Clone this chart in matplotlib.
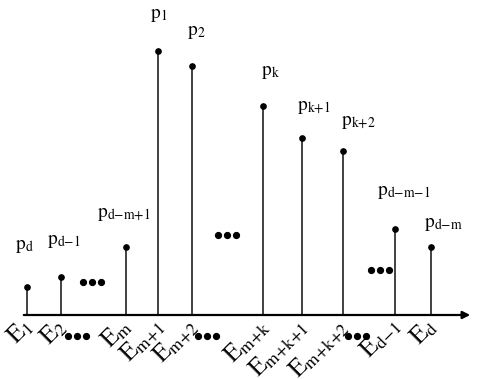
import matplotlib
matplotlib.use("Agg")
import matplotlib.pyplot as plt

plt.rcParams['font.family'] = ['Liberation Serif', 'DejaVu Serif']
plt.rcParams['mathtext.fontset'] = 'stix'

# позиции стержней по оси и их высоты
x_pos = [27, 61, 126, 158, 192, 263, 302, 343, 395, 431]
heights = [28, 38, 68, 264, 249, 209, 177, 164, 86, 68]

e_labels = ["1", "2", "m", "m{+}1", "m{+}2", "m{+}k", "m{+}k{+}1", "m{+}k{+}2", "d{-}1", "d"]
p_labels = ["d", "d{-}1", "d{-}m{+}1", "1", "2", "k", "k{+}1", "k{+}2", "d{-}m{-}1", "d{-}m"]

# смещения подписей p (dx, dy)
p_off = [(-3, 32), (3, 27), (-2, 24), (1, 27), (4, 25), (7, 25), (12, 22), (15, 20), (9, 28), (12, 14)]

fig = plt.figure(figsize=(4.79, 3.79), dpi=100)
ax = fig.add_axes([0, 0, 1, 1])
ax.set_xlim(0, 479)
ax.set_ylim(-64, 315)
ax.axis("off")

# ось со стрелкой
ax.annotate("", xy=(473, 0), xytext=(21, 0),
            arrowprops=dict(arrowstyle="-|>", lw=1.6, color="black", mutation_scale=11))

ax.vlines(x_pos, 0, heights, color="#333333", lw=1.3)
ax.plot(x_pos, heights, "o", color="black", ms=3.8)

for x, h, p, (dx, dy) in zip(x_pos, heights, p_labels, p_off):
    ax.text(x + dx, h + dy, r"$\mathrm{p}_{\mathrm{" + p + "}}$",
            ha="center", va="bottom", fontsize=14)

for x, e in zip(x_pos, e_labels):
    ax.text(x - 7, 1, r"$\mathrm{E}_{\mathrm{" + e + "}}$",
            ha="right", va="top", rotation=45, rotation_mode="anchor", fontsize=18)

# многоточия
for ex, ey in [(92, 33), (227, 80), (380, 45), (77, -21), (207, -21), (357, -21)]:
    ax.plot([ex - 9, ex, ex + 9], [ey] * 3, "o", color="black", ms=4.2)

plt.savefig("out.png", dpi=100)
plt.close()
